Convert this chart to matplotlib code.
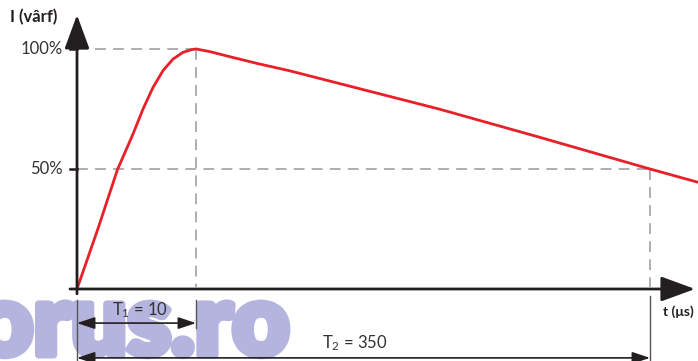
import numpy as np
import matplotlib
matplotlib.use("Agg")
import matplotlib.pyplot as plt
import matplotlib.patheffects as pe

plt.rcParams["font.family"] = ["Lato", "DejaVu Sans"]
plt.rcParams["mathtext.fontset"] = "custom"
plt.rcParams["mathtext.rm"] = "Lato"
plt.rcParams["mathtext.it"] = "Lato"

# Impulse current waveform (schematic), time in microseconds, current in % of peak
T1 = 10      # front time
T2 = 350     # time to half value
rise_t = [0, 1.78, 3.39, 4.71, 5.55, 6.39, 7.23, 8.07, 8.91, 9.61, 10]
rise_i = [0, 25.4, 49.6, 64.6, 75.0, 84.0, 91.0, 95.8, 98.6, 99.7, 100]
decay_t = [10, 20.3, 35.2, 55.5, 80.2, 130.4, 192.5, 267.4, 350, 385.7]
decay_i = [100, 98.9, 96.8, 94.0, 90.9, 83.75, 74.9, 63.2, 50, 44.5]
level_ticks = [50, 100]
level_labels = ["50%", "100%"]

# Schematic time axis: the front is stretched relative to the tail
FRONT_SCALE = 11.9
TAIL_SCALE = 454 / 340


def fwd(t):
    t = np.asarray(t, dtype=float)
    return np.where(t <= T1, t * FRONT_SCALE, T1 * FRONT_SCALE + (t - T1) * TAIL_SCALE)


def inv(u):
    u = np.asarray(u, dtype=float)
    return np.where(u <= T1 * FRONT_SCALE, u / FRONT_SCALE,
                    T1 + (u - T1 * FRONT_SCALE) / TAIL_SCALE)


W, H = 698, 361
fig = plt.figure(figsize=(W / 100, H / 100), dpi=100)
ax = fig.add_axes([0, 0, 1, 1])
ax.patch.set_visible(False)
ax.set_xscale("function", functions=(fwd, inv))
ax.set_xlim(float(inv(-77)), float(inv(621)))
ax.set_ylim(-30, 120.4)
ax.axis("off")

axis_c = "#231f20"
dash_c = "#a8a8a8"
red = "#e8202a"
mark_c = "#b4b4de"

# watermark
fig.text(-24 / W, (H - 355) / H, "orus.ro", fontsize=71, fontweight="heavy",
         color=mark_c, va="baseline", ha="left", zorder=-5,
         path_effects=[pe.withStroke(linewidth=5, foreground=mark_c)])

# guide lines
dash = dict(color=dash_c, lw=1.3, dashes=(6, 4))
ax.plot([0, T1], [100, 100], **dash)
ax.plot([T1, T1], [100, 1], **dash)
ax.plot([0, T2], [50, 50], **dash)
ax.plot([T2, T2], [50, 1], **dash)

# extension lines for the dimensions
ext = dict(color="#555555", lw=1.0)
ax.plot([0, 0], [-4.6, -30], **ext)
ax.plot([T1, T1], [-4.6, -16.3], **ext)
ax.plot([T2, T2], [-2.9, -30], **ext)

# waveform
ax.plot(rise_t + decay_t[1:], rise_i + decay_i[1:], color=red, lw=2.0,
        solid_capstyle="round", solid_joinstyle="round", zorder=4)

# axes with arrowheads
t_left = float(inv(-7))
head = "-|>,head_length=1.5,head_width=0.55"
ax.annotate("", xy=(0, 114.2), xytext=(0, -2),
            arrowprops=dict(arrowstyle=head, color=axis_c, lw=2.0,
                            shrinkA=0, shrinkB=0, mutation_scale=14), zorder=5)
ax.annotate("", xy=(float(inv(618)), 0), xytext=(t_left, 0),
            arrowprops=dict(arrowstyle=head, color=axis_c, lw=2.0,
                            shrinkA=0, shrinkB=0, mutation_scale=14), zorder=5)

# level ticks and labels
for v, lab in zip(level_ticks, level_labels):
    ax.plot([t_left, 0], [v, v], color=axis_c, lw=1.8)
    ax.text(float(inv(-14)), v, lab, ha="right", va="center",
            fontsize=12, color="#333333")

# dimension arrows
dim = dict(arrowstyle="<|-|>,head_length=0.9,head_width=0.3", color=axis_c,
           lw=1.2, shrinkA=0, shrinkB=0, mutation_scale=12)
ax.annotate("", xy=(T1, -14.2), xytext=(0, -14.2), arrowprops=dim)
ax.annotate("", xy=(T2, -28.7), xytext=(0, -28.7), arrowprops=dim)
ax.text(float(inv(63)), -9.0, "T$_1$ = 10", ha="center", va="center",
        fontsize=12, color="#333333")
ax.text(float(inv(278)), -22.5, "T$_2$ = 350", ha="center", va="center",
        fontsize=12, color="#333333")

# axis titles
ax.text(float(inv(-67)), 113.3, "I (vârf)", ha="left", va="center",
        fontsize=12, fontweight="bold", color=axis_c)
ax.text(float(inv(601)), -9.6, "t (μs)", ha="center", va="center",
        fontsize=10, fontweight="bold", color=axis_c,
        family=["Lato", "DejaVu Sans"])

fig.savefig("out.png", dpi=100)
